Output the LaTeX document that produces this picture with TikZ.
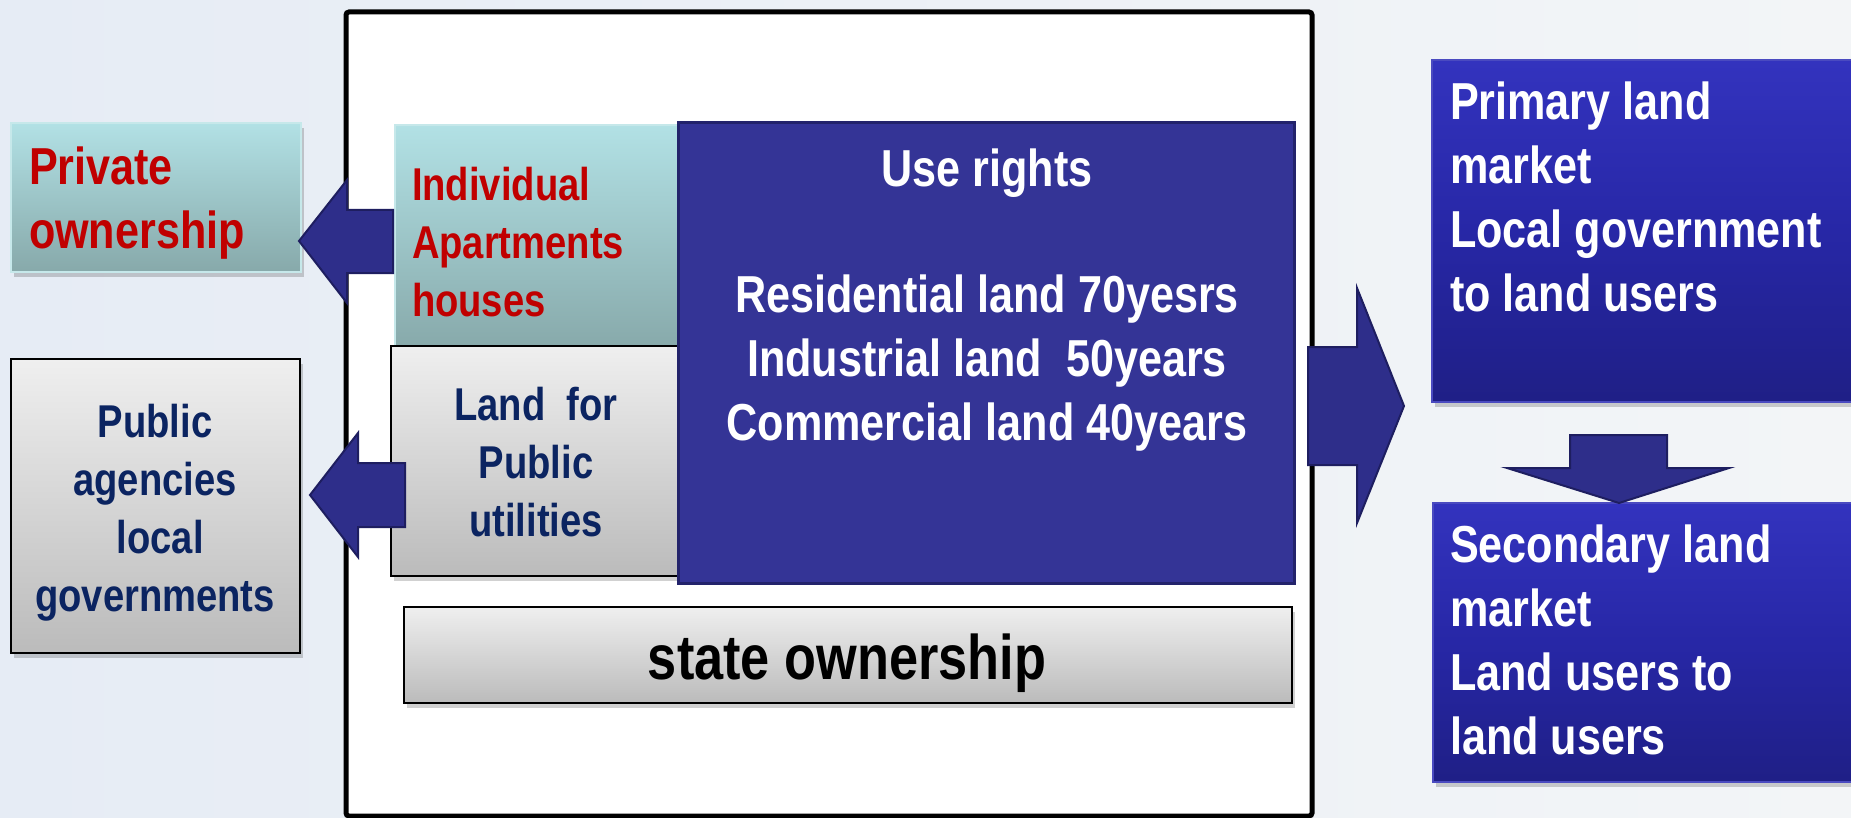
\documentclass[tikz,border=0pt]{standalone}
\usepackage{fontspec}
\newfontfamily\nar[FakeStretch=0.83]{Liberation Sans}
\usetikzlibrary{fit,shadows}
\definecolor{bgL}{HTML}{E6ECF5}
\definecolor{bgR}{HTML}{F3F5F7}
\definecolor{cyT}{HTML}{B2E1E5}
\definecolor{cyB}{HTML}{87A9AA}
\definecolor{cyE}{HTML}{C6E8EA}
\definecolor{gyT}{HTML}{EFEFEF}
\definecolor{gyB}{HTML}{BBBBBB}
\definecolor{redT}{HTML}{C00000}
\definecolor{navyT}{HTML}{0B2461}
\definecolor{useF}{HTML}{343496}
\definecolor{useE}{HTML}{23236B}
\definecolor{mkT}{HTML}{3333BE}
\definecolor{mkM}{HTML}{2727A6}
\definecolor{mkB}{HTML}{1F1F86}
\definecolor{mkE}{HTML}{4A4AC0}
\definecolor{arF}{HTML}{2E2E8A}
\definecolor{arE}{HTML}{1E1E60}
\newcommand\fsz[2]{\fontsize{#1}{#2}\selectfont}
\begin{document}
\begin{tikzpicture}[x=0.5pt,y=-0.5pt,
  box/.style={inner sep=0pt, outer sep=0pt},
  dshadow/.style={drop shadow={shadow xshift=1.5pt, shadow yshift=-2.5pt, fill=black, opacity=0.18}},
  cyanbox/.style={box, top color=cyT, bottom color=cyB, draw=cyE, line width=0.6pt, dshadow},
  graybox/.style={box, top color=gyT, bottom color=gyB, draw=black, line width=1.3pt, dshadow},
  usebox/.style={box, fill=useF, draw=useE, line width=1.5pt},
  mktbox/.style={box, top color=mkT, bottom color=mkB, middle color=mkM, draw=mkE, line width=0.6pt, dshadow},
  framebox/.style={box, fill=white, draw=black, line width=2.5pt, rounded corners=1.5pt},
  blockarrow/.style={fill=arF, draw=arE, line width=1pt, line join=miter},
  txt/.style={inner sep=0pt, outer sep=0pt, font=\nar\bfseries},
  bigtxt/.style={txt, font=\nar\bfseries\fsz{26pt}{32pt}},
  midtxt/.style={txt, font=\nar\bfseries\fsz{23pt}{29pt}},
]
\useasboundingbox (0,0) rectangle (1851,818);
\clip (0,0) rectangle (1851,818);
\shade[left color=bgL, right color=bgR] (0,0) rectangle (1851,818);

% main frame
\node[framebox, fit={(346,12) (1312,816)}] (frame) {};

% inner boxes
\node[cyanbox, fit={(395,125) (678,350)}] (indiv) {};
\node[graybox, fit={(391,346) (680,576)}] (landpub) {};
\node[usebox, fit={(678,123) (1294,583)}] (use) {};
\node[graybox, fit={(404,607) (1292,703)}] (state) {};

% left boxes
\node[cyanbox, fit={(11,123) (301,272)}] (priv) {};
\node[graybox, fit={(11,359) (300,653)}] (pub) {};

% right boxes
\node[mktbox, fit={(1432,60) (1870,402)}] (prim) {};
\node[mktbox, fit={(1433,503) (1870,782)}] (sec) {};

% block arrows
\draw[blockarrow] (299,241) -- (347,180) -- (347,210) -- (393,210) -- (393,273) -- (347,273) -- (347,303) -- cycle;
\draw[blockarrow] (310,495) -- (358,433) -- (358,463) -- (405,463) -- (405,527) -- (358,527) -- (358,557) -- cycle;
\draw[blockarrow] (1308,347) -- (1357,347) -- (1357,288) -- (1404,406) -- (1357,523) -- (1357,465) -- (1308,465) -- cycle;
\draw[blockarrow] (1570,435) -- (1667,435) -- (1667,468) -- (1729,468) -- (1619,503) -- (1507,468) -- (1570,468) -- cycle;

% texts
\node[bigtxt, text=redT, align=left, anchor=north west] (privtxt) at (29,147) {Private\\ownership};
\node[midtxt, text=redT, align=left, anchor=north west] (indivtxt) at (412,167) {Individual\\Apartments\\houses};
\node[midtxt, text=navyT, align=center, anchor=north] (landtxt) at (536,387) {Land\ \ for\\Public\\utilities};
\node[midtxt, text=navyT, align=center, anchor=north] (pubtxt) at (155,404) {Public\\agencies\\\ local\\governments};
\node[bigtxt, text=white, align=center, anchor=north] (usetxt) at (987,149) {Use rights\\[31pt]Residential land 70yesrs\\Industrial land\ \ 50years\\Commercial land 40years};
\node[txt, font=\nar\bfseries\fsz{31.5pt}{38pt}, anchor=base] (statetxt) at (847,679) {state ownership};
\node[bigtxt, text=white, align=left, anchor=north west] (primtxt) at (1450,82) {Primary land\\market\\Local government\\to land users};
\node[bigtxt, text=white, align=left, anchor=north west] (sectxt) at (1450,525) {Secondary land\\market\\Land users to\\land users};
\end{tikzpicture}
\end{document}
